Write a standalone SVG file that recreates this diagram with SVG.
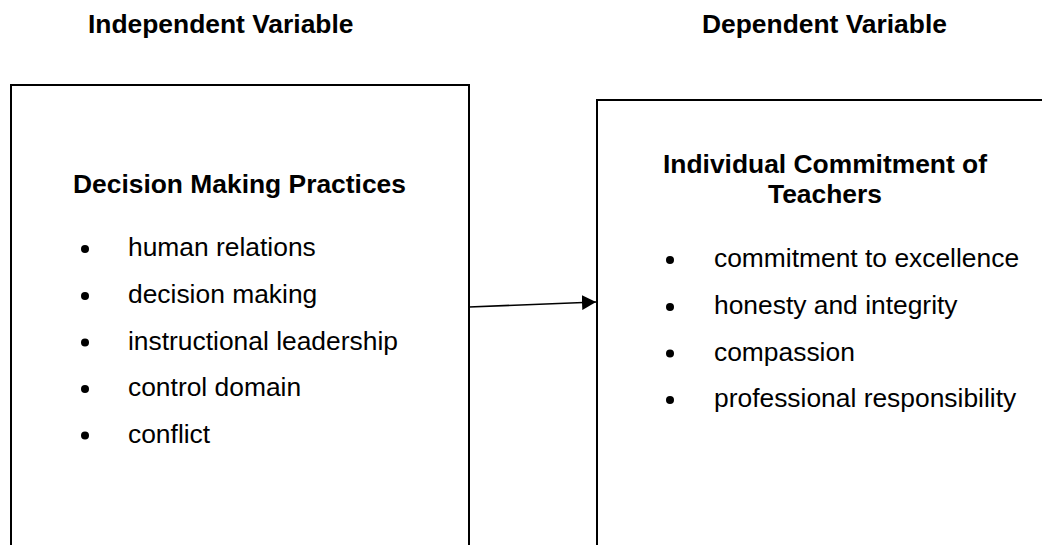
<svg xmlns="http://www.w3.org/2000/svg" width="1042" height="545" viewBox="0 0 1042 545">
  <style>
    text { font-family: "Liberation Sans", Arial, sans-serif; font-size: 26.4px; fill: #000; }
    .bold { font-weight: bold; }
    .box { fill: #fff; stroke: #000; stroke-width: 2; }
    .bullet { fill: #000; }
    .conn { stroke: #000; stroke-width: 1.6; fill: none; }
  </style>
  <defs>
    <marker id="arrow" markerWidth="14" markerHeight="15" refX="14" refY="7.5" orient="auto" markerUnits="userSpaceOnUse">
      <path d="M0,0 L14,7.5 L0,15 Z" fill="#000"/>
    </marker>
  </defs>
  <rect width="1042" height="545" fill="#fff"/>

  <g id="header-independent">
    <text class="bold" x="88" y="33">Independent Variable</text>
  </g>
  <g id="header-dependent">
    <text class="bold" x="702" y="33">Dependent Variable</text>
  </g>

  <g id="node-decision-making">
    <rect class="box" x="11" y="85" width="458" height="480"/>
    <text class="bold" x="73" y="193">Decision Making Practices</text>
    <circle class="bullet" cx="85" cy="249" r="4"/>
    <text x="128" y="256">human relations</text>
    <circle class="bullet" cx="85" cy="296" r="4"/>
    <text x="128" y="303">decision making</text>
    <circle class="bullet" cx="85" cy="342.5" r="4"/>
    <text x="128" y="349.5">instructional leadership</text>
    <circle class="bullet" cx="85" cy="389" r="4"/>
    <text x="128" y="396">control domain</text>
    <circle class="bullet" cx="85" cy="435.5" r="4"/>
    <text x="128" y="442.5">conflict</text>
  </g>

  <g id="node-commitment">
    <rect class="box" x="597" y="100" width="480" height="480"/>
    <text class="bold" x="663" y="173">Individual Commitment of</text>
    <text class="bold" x="768" y="203">Teachers</text>
    <circle class="bullet" cx="670" cy="260" r="4"/>
    <text x="714" y="267">commitment to excellence</text>
    <circle class="bullet" cx="670" cy="307" r="4"/>
    <text x="714" y="314">honesty and integrity</text>
    <circle class="bullet" cx="670" cy="353.5" r="4"/>
    <text x="714" y="360.5">compassion</text>
    <circle class="bullet" cx="670" cy="400" r="4"/>
    <text x="714" y="407">professional responsibility</text>
  </g>

  <g id="connectors">
    <line class="conn" x1="469" y1="307" x2="596" y2="302" marker-end="url(#arrow)"/>
  </g>
</svg>
